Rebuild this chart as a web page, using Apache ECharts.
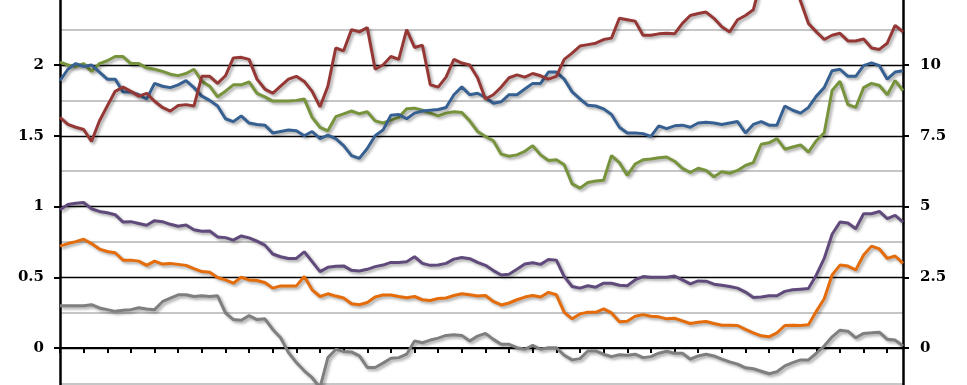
<!DOCTYPE html>
<html>
<head>
<meta charset="utf-8">
<script src="https://cdn.jsdelivr.net/npm/echarts@6/dist/echarts.min.js"></script>
<style>
html,body{margin:0;padding:0;background:#fff;}
#chart{width:967px;height:385px;}
</style>
</head>
<body>
<div id="chart"></div>
<script>
// 108 monthly observations (no axis labels shown)
var categories = [];
for (var k = 1; k <= 108; k++) categories.push(String(k));

var leftTicks = ['0', '0.5', '1', '1.5', '2', '2.5'];
var rightTicks = ['0', '2.5', '5', '7.5', '10', '12.5'];

// right axis series
var redSeries = [8.15,7.9,7.8,7.72,7.3,8.02,8.55,9.07,9.22,9.07,
  8.9,9.0,8.72,8.5,8.37,8.57,8.6,8.55,9.6,9.6,
  9.35,9.62,10.25,10.27,10.2,9.5,9.15,9.0,9.25,9.5,
  9.6,9.42,9.07,8.52,9.25,10.6,10.5,11.25,11.17,11.32,
  9.85,10.0,10.3,10.2,11.25,10.62,10.7,9.3,9.22,9.57,
  10.2,10.07,10.0,9.55,8.8,8.95,9.22,9.55,9.65,9.57,
  9.7,9.62,9.5,9.6,10.2,10.42,10.67,10.72,10.77,10.9,
  10.95,11.65,11.6,11.55,11.05,11.05,11.1,11.12,11.1,11.47,
  11.75,11.82,11.87,11.65,11.35,11.17,11.6,11.75,11.95,13.0,
  13.5,13.8,13.5,13.0,12.25,11.47,11.17,10.9,11.05,11.12,
  10.85,10.85,10.92,10.6,10.55,10.77,11.4,11.17];

// left axis series
var blueSeries = [1.89,1.97,2.01,1.99,2.00,1.95,1.90,1.90,1.81,1.81,
  1.79,1.76,1.87,1.85,1.84,1.86,1.89,1.84,1.78,1.75,
  1.71,1.62,1.60,1.64,1.59,1.58,1.575,1.52,1.53,1.54,
  1.535,1.50,1.53,1.48,1.505,1.48,1.43,1.36,1.34,1.41,
  1.50,1.54,1.645,1.65,1.62,1.66,1.675,1.68,1.685,1.70,
  1.79,1.845,1.79,1.80,1.77,1.73,1.74,1.79,1.79,1.83,
  1.87,1.87,1.95,1.95,1.90,1.81,1.76,1.715,1.71,1.69,
  1.65,1.56,1.52,1.52,1.515,1.495,1.57,1.55,1.57,1.575,
  1.56,1.59,1.595,1.59,1.58,1.59,1.60,1.52,1.58,1.60,
  1.575,1.575,1.71,1.68,1.66,1.70,1.78,1.84,1.96,1.97,
  1.92,1.92,1.995,2.015,1.995,1.90,1.95,1.96];

var greenSeries = [2.02,2.00,1.99,2.01,1.955,2.01,2.03,2.06,2.06,2.01,
  2.01,1.98,1.97,1.955,1.935,1.925,1.94,1.97,1.885,1.85,
  1.775,1.815,1.86,1.86,1.88,1.80,1.775,1.745,1.745,1.745,
  1.75,1.76,1.63,1.56,1.535,1.635,1.655,1.675,1.655,1.67,
  1.605,1.59,1.61,1.63,1.69,1.695,1.68,1.66,1.64,1.66,
  1.67,1.665,1.605,1.53,1.495,1.465,1.37,1.355,1.365,1.39,
  1.43,1.365,1.325,1.33,1.295,1.16,1.13,1.17,1.18,1.185,
  1.36,1.31,1.22,1.30,1.33,1.335,1.345,1.35,1.32,1.27,
  1.24,1.27,1.255,1.21,1.245,1.235,1.255,1.29,1.31,1.44,
  1.45,1.48,1.405,1.42,1.435,1.385,1.465,1.52,1.82,1.885,
  1.72,1.70,1.84,1.87,1.855,1.79,1.89,1.82];

var purpleSeries = [0.977,1.014,1.023,1.028,0.984,0.965,0.956,0.942,0.89,0.893,
  0.88,0.867,0.90,0.893,0.874,0.86,0.869,0.836,0.825,0.827,
  0.785,0.78,0.762,0.792,0.778,0.755,0.727,0.664,0.645,0.633,
  0.633,0.68,0.61,0.54,0.57,0.578,0.58,0.549,0.544,0.556,
  0.575,0.586,0.605,0.605,0.61,0.645,0.598,0.584,0.586,0.598,
  0.628,0.64,0.631,0.605,0.584,0.547,0.516,0.521,0.556,0.593,
  0.603,0.591,0.626,0.621,0.505,0.435,0.423,0.44,0.43,0.458,
  0.458,0.443,0.44,0.481,0.505,0.50,0.50,0.50,0.509,0.481,
  0.453,0.474,0.472,0.451,0.444,0.435,0.423,0.395,0.357,0.36,
  0.369,0.369,0.40,0.411,0.416,0.42,0.516,0.633,0.804,0.89,
  0.883,0.843,0.949,0.949,0.965,0.914,0.937,0.89];

var orangeSeries = [0.72,0.738,0.752,0.769,0.738,0.699,0.682,0.673,0.621,0.621,
  0.614,0.584,0.614,0.593,0.598,0.591,0.584,0.561,0.54,0.535,
  0.498,0.481,0.458,0.50,0.481,0.477,0.463,0.423,0.439,0.439,
  0.439,0.505,0.411,0.364,0.383,0.367,0.353,0.313,0.306,0.322,
  0.36,0.374,0.374,0.364,0.355,0.364,0.341,0.336,0.35,0.353,
  0.371,0.383,0.376,0.367,0.371,0.329,0.304,0.318,0.341,0.36,
  0.371,0.36,0.393,0.376,0.252,0.206,0.241,0.252,0.252,0.276,
  0.248,0.186,0.189,0.224,0.236,0.224,0.22,0.206,0.21,0.192,
  0.173,0.182,0.187,0.173,0.161,0.161,0.159,0.131,0.107,0.086,
  0.079,0.107,0.159,0.161,0.159,0.164,0.259,0.348,0.516,0.586,
  0.579,0.551,0.657,0.72,0.70,0.633,0.65,0.598];

var greySeries = [0.299,0.299,0.299,0.299,0.306,0.283,0.271,0.259,0.266,0.271,
  0.285,0.276,0.271,0.327,0.353,0.376,0.376,0.364,0.369,0.364,
  0.369,0.248,0.201,0.196,0.229,0.201,0.206,0.131,0.072,-0.033,
  -0.103,-0.161,-0.21,-0.28,-0.068,-0.01,-0.024,-0.028,-0.056,-0.138,
  -0.138,-0.107,-0.072,-0.068,-0.044,0.049,0.037,0.056,0.07,0.089,
  0.093,0.089,0.049,0.084,0.103,0.061,0.026,0.026,0.002,-0.009,
  0.019,-0.009,0.002,0.002,-0.051,-0.084,-0.075,-0.021,-0.021,-0.044,
  -0.061,-0.048,-0.051,-0.044,-0.068,-0.061,-0.037,-0.023,-0.037,-0.037,
  -0.079,-0.056,-0.044,-0.056,-0.079,-0.098,-0.114,-0.14,-0.147,-0.164,
  -0.182,-0.168,-0.126,-0.103,-0.084,-0.084,-0.037,0.014,0.079,0.126,
  0.119,0.072,0.103,0.107,0.112,0.061,0.056,0.014];

var chart = echarts.init(document.getElementById('chart'), null, {renderer: 'canvas'});

var labelFont = {fontFamily: 'DejaVu Serif', fontWeight: 'bold', fontSize: 15, color: '#000'};

function mkLine(name, data, color, axisIdx) {
  return {
    name: name, type: 'line', data: data, yAxisIndex: axisIdx,
    symbol: 'none', smooth: false, animation: false,
    lineStyle: {color: color, width: 3, shadowColor: 'rgba(0,0,0,0.35)', shadowBlur: 3, shadowOffsetX: 2, shadowOffsetY: 2},
    itemStyle: {color: color}
  };
}

function fmt(ticks, step) {
  return function (v) {
    var i = Math.round(v / step);
    return (i >= 0 && i < ticks.length) ? ticks[i] : '';
  };
}

chart.setOption({
  animation: false,
  backgroundColor: '#fff',
  grid: {left: 60, top: -5.75, width: 843, height: 424.5, containLabel: false, outerBoundsMode: 'none'},
  xAxis: {
    type: 'category', data: categories, boundaryGap: false,
    axisLine: {show: true, onZero: true, lineStyle: {color: '#000', width: 2}},
    axisTick: {show: true, interval: 2, length: 5, inside: false, lineStyle: {color: '#000', width: 2}},
    axisLabel: {show: false},
    splitLine: {show: false}
  },
  yAxis: [
    {
      type: 'value', position: 'left', min: -0.5, max: 2.5, interval: 0.5,
      axisLine: {show: true, onZero: false, lineStyle: {color: '#000', width: 2.5}},
      axisTick: {show: true, length: 6, lineStyle: {color: '#000', width: 2}},
      axisLabel: Object.assign({margin: 16, formatter: fmt(leftTicks, 0.5)}, labelFont),
      splitLine: {show: true, lineStyle: {color: '#000', width: 1.3}},
      minorTick: {show: false, splitNumber: 2},
      minorSplitLine: {show: true, lineStyle: {color: '#b4b4b4', width: 1.5}}
    },
    {
      type: 'value', position: 'right', min: -2.5, max: 12.5, interval: 2.5,
      axisLine: {show: true, onZero: false, lineStyle: {color: '#000', width: 2.5}},
      axisTick: {show: true, length: 6, lineStyle: {color: '#000', width: 2}},
      axisLabel: Object.assign({margin: 17, formatter: fmt(rightTicks, 2.5)}, labelFont),
      splitLine: {show: false},
      minorSplitLine: {show: false}
    }
  ],
  series: [
    mkLine('Grey', greySeries, '#7f7f7f', 0),
    mkLine('Orange', orangeSeries, '#e46c0a', 0),
    mkLine('Purple', purpleSeries, '#604a7b', 0),
    mkLine('Green', greenSeries, '#77933c', 0),
    mkLine('Blue', blueSeries, '#376092', 0),
    mkLine('Red', redSeries, '#953735', 1)
  ]
});
</script>
</body>
</html>
